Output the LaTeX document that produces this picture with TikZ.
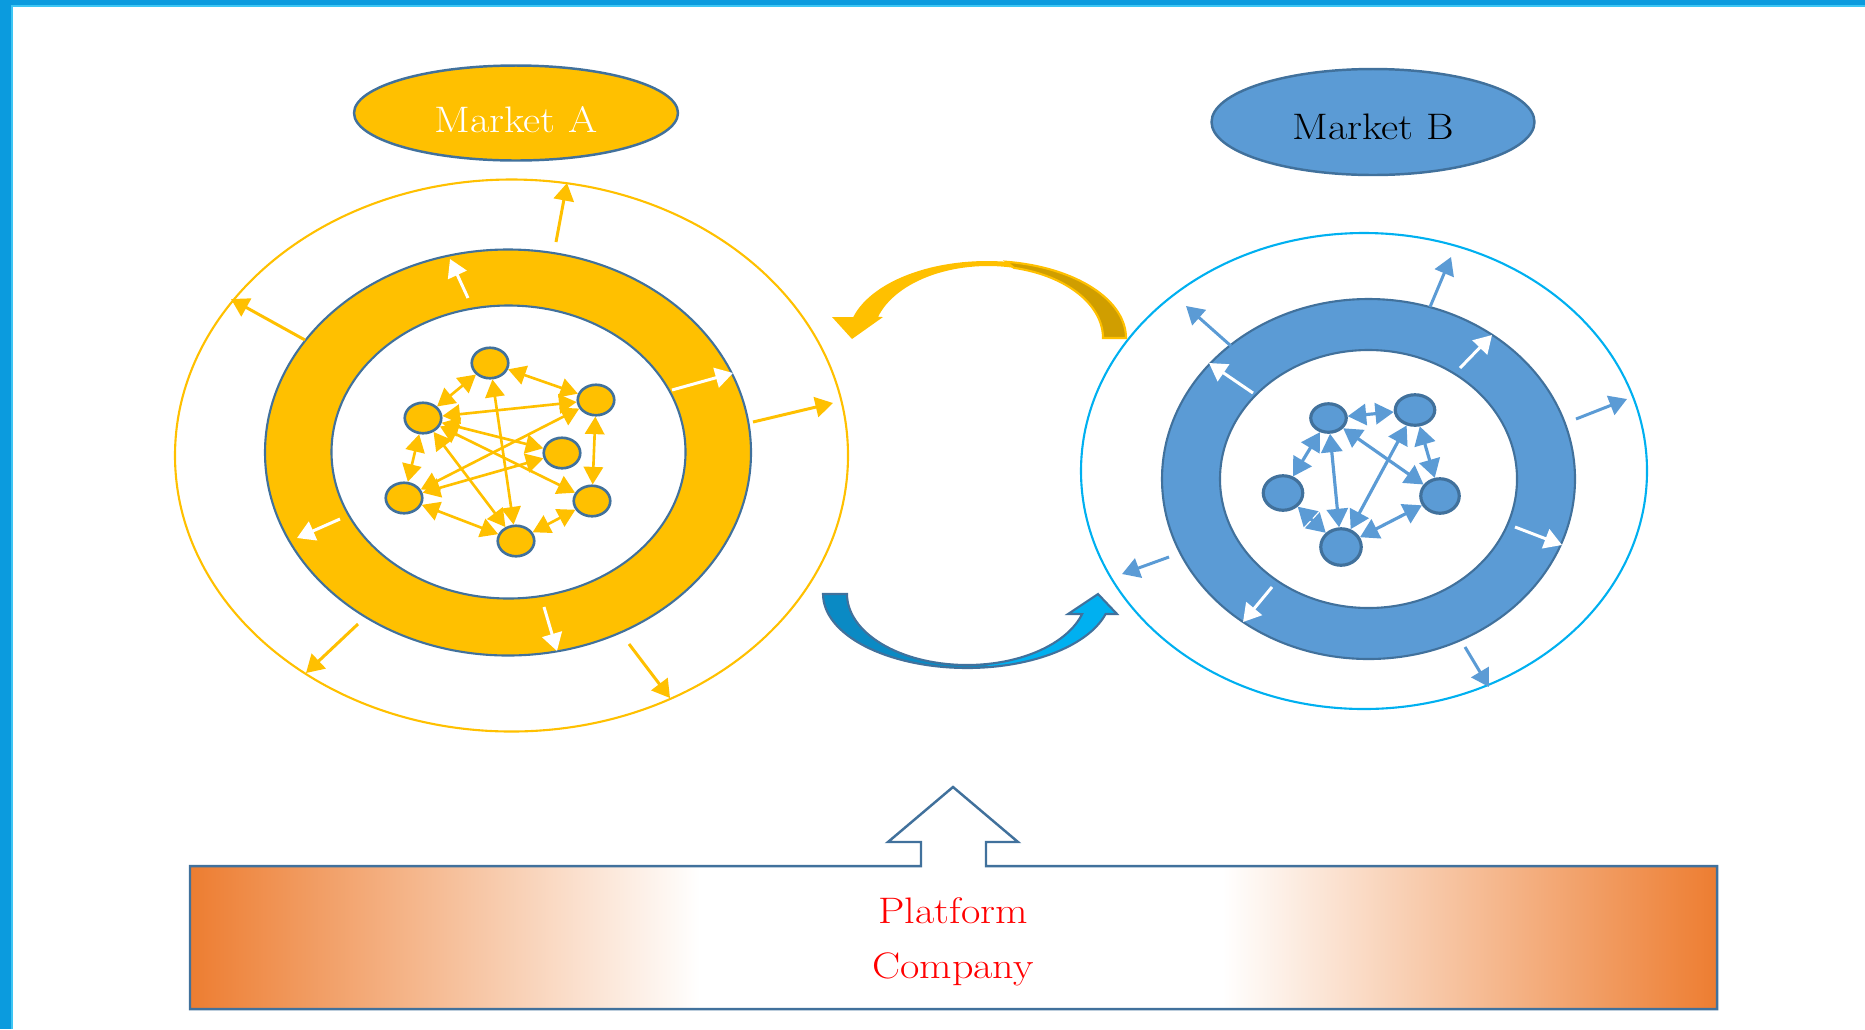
\documentclass[tikz,border=0pt]{standalone}
\usepackage{fontspec}
\usepackage{graphicx}
\usetikzlibrary{arrows.meta,shapes.geometric}

\definecolor{gold}{HTML}{FFC000}
\definecolor{darkgold}{HTML}{D09E00}
\definecolor{steel}{HTML}{41719C}
\definecolor{sky}{HTML}{5B9BD5}
\definecolor{ringcyan}{HTML}{00B0F0}
\definecolor{deepcyan}{HTML}{0A8AC4}
\definecolor{frameblue}{HTML}{0B9BDE}
\definecolor{framelight}{HTML}{3CC6F4}
\definecolor{platorange}{HTML}{ED7D31}

% orange at both ends of the platform bar, white in the middle
\pgfdeclarehorizontalshading{platformfade}{100bp}{color(0bp)=(platorange); color(25bp)=(platorange); color(41.7bp)=(white); color(58.8bp)=(white); color(75bp)=(platorange); color(100bp)=(platorange)}

% ribbon of the lower curved arrow (blue)
\newcommand{\lowerribbon}{(1068,614) -- (1098,594) -- (1117,614)
  -- plot[domain=15.7:180, samples=60, variable=\t] ({967+144*cos(\t)},{594+74*sin(\t)})
  -- plot[domain=180:16.4, samples=60, variable=\t] ({967+120*cos(\t)},{594+71*sin(\t)}) -- cycle}

% wide, slightly heavy label lettering
\newcommand{\widelabel}[1]{\scalebox{1.14}[1]{\addfontfeatures{FakeBold=0.4}#1}}

\begin{document}
\begin{tikzpicture}[x=0.02cm, y=-0.02cm,
  agent/.style={ellipse, draw=steel, inner sep=0pt},
  goldagent/.style={agent, fill=gold, line width=1.5pt, minimum width=0.73cm, minimum height=0.61cm},
  skyagent/.style={agent, fill=sky, line width=1.8pt},
  goldlink/.style={gold, line width=1.5pt, >={Triangle[length=10pt,width=11pt]}, <->},
  skylink/.style={sky, line width=1.8pt, >={Triangle[length=10.5pt,width=12pt]}, <->},
  radial/.style={line width=1.7pt, -{Triangle[length=10pt,width=11.5pt]}},
  market/.style={ellipse, draw=steel, line width=1.4pt, inner sep=0pt},
  bigtext/.style={font=\fontsize{21}{25}\selectfont, inner sep=0pt},
]
\useasboundingbox (0,0) rectangle (1865,1029);

% frame on the left and top edges
\fill[frameblue] (0,0) rectangle (11,1029);
\fill[frameblue] (0,0) rectangle (1865,5);
\draw[framelight, line width=0.8pt] (12,1029) -- (12,6) -- (1865,6);

% ---------- market A system ----------
\draw[gold, line width=1.2pt] (511.5,455.5) ellipse [x radius=336.5, y radius=276];
\draw[steel, line width=1.2pt, fill=gold, even odd rule]
  (508,452.5) ellipse [x radius=243, y radius=203]
  (508.5,452) ellipse [x radius=177, y radius=146.5];

\foreach \nm/\xa/\ya/\xb/\yb in {aw1/468/298/450/259, aw2/672/390/733/373, aw3/340/519/297/538, aw4/544/607/557/651}{
  \coordinate (\nm-tail) at (\xa,\ya);
  \coordinate (\nm-tip) at (\xb,\yb);
  \draw[radial, white] (\nm-tail) -- (\nm-tip);
}
\foreach \nm/\xa/\ya/\xb/\yb in {ag1/556/242/567/183, ag2/305/340/231/299, ag3/753/422/833/403, ag4/358/624/306/673, ag5/629/644/670/698}{
  \coordinate (\nm-tail) at (\xa,\ya);
  \coordinate (\nm-tip) at (\xb,\yb);
  \draw[radial, gold] (\nm-tail) -- (\nm-tip);
}

\node[goldagent] (ga1) at (490,363) {};
\node[goldagent] (ga2) at (423,418) {};
\node[goldagent] (ga3) at (596,400) {};
\node[goldagent] (ga4) at (562,453) {};
\node[goldagent] (ga5) at (404,498) {};
\node[goldagent] (ga6) at (592,501) {};
\node[goldagent] (ga7) at (516,541) {};
\foreach \p/\q in {ga1/ga2, ga1/ga3, ga2/ga3, ga2/ga5, ga3/ga6, ga1/ga7, ga2/ga4, ga2/ga6, ga2/ga7, ga5/ga3, ga5/ga4, ga5/ga7, ga7/ga6}
  \draw[goldlink] (\p) -- (\q);

% ---------- market B system ----------
\draw[ringcyan, line width=1.2pt] (1364,471) ellipse [x radius=283, y radius=238];
\draw[steel, line width=1.2pt, fill=sky, even odd rule]
  (1368.5,479) ellipse [x radius=206.5, y radius=180]
  (1368.5,479) ellipse [x radius=148.5, y radius=129];

\foreach \nm/\xa/\ya/\xb/\yb in {bw1/1253/393/1209/363, bw2/1460/368/1492/335, bw3/1515/527/1562/545, bw4/1272/587/1243/622}{
  \coordinate (\nm-tail) at (\xa,\ya);
  \coordinate (\nm-tip) at (\xb,\yb);
  \draw[radial, white] (\nm-tail) -- (\nm-tip);
}
\foreach \nm/\xa/\ya/\xb/\yb in {bs1/1231/346/1186/306, bs2/1430/307/1451/257, bs3/1576/419/1627/399, bs4/1169/557/1122/574, bs5/1465/647/1489/687}{
  \coordinate (\nm-tail) at (\xa,\ya);
  \coordinate (\nm-tip) at (\xb,\yb);
  \draw[radial, sky] (\nm-tail) -- (\nm-tip);
}

\node[skyagent, minimum width=0.71cm, minimum height=0.57cm] (sb1) at (1328.5,418) {};
\node[skyagent, minimum width=0.79cm, minimum height=0.61cm] (sb2) at (1415,410) {};
\node[skyagent, minimum width=0.79cm, minimum height=0.69cm] (sb3) at (1283,493) {};
\node[skyagent, minimum width=0.77cm, minimum height=0.69cm] (sb4) at (1440,496) {};
\node[skyagent, minimum width=0.81cm, minimum height=0.73cm] (sb5) at (1341,547) {};
\foreach \p/\q in {sb1/sb2, sb1/sb3, sb1/sb5, sb1/sb4, sb2/sb5, sb2/sb4, sb3/sb5, sb5/sb4}
  \draw[skylink] (\p) -- (\q);

% ---------- market labels ----------
\node[market, fill=gold, minimum width=6.48cm, minimum height=1.9cm] (marketA) at (516,113) {};
\node[bigtext, text=white] (marketAtext) at (516,120) {\widelabel{Market A}};
\node[market, fill=sky, minimum width=6.46cm, minimum height=2.12cm] (marketB) at (1373,122) {};
\node[bigtext, text=black] (marketBtext) at (1373,127) {\widelabel{Market B}};

% ---------- upper curved arrow (B to A) ----------
\fill[gold] (832,317) -- (852,339) -- (883,317)
  -- plot[domain=197:360, samples=60, variable=\t] ({988+115*cos(\t)},{338+72*sin(\t)})
  -- plot[domain=360:195.8, samples=60, variable=\t] ({987+139*cos(\t)},{338+77*sin(\t)}) -- cycle;
\filldraw[fill=darkgold, draw=gold, line width=1.2pt]
  plot[domain=278:360, samples=40, variable=\t] ({987+139*cos(\t)},{338+77*sin(\t)})
  -- plot[domain=360:283, samples=40, variable=\t] ({988+115*cos(\t)},{338+72*sin(\t)}) -- cycle;

% ---------- lower curved arrow (A to B) ----------
\fill[ringcyan] \lowerribbon;
\fill[deepcyan]
  plot[domain=80:180, samples=40, variable=\t] ({967+144*cos(\t)},{594+74*sin(\t)})
  -- plot[domain=180:82, samples=40, variable=\t] ({967+120*cos(\t)},{594+71*sin(\t)}) -- cycle;
\draw[steel, line width=1.2pt, line join=miter] \lowerribbon;

% ---------- platform company bar with upward arrow ----------
\shadedraw[shading=platformfade, draw=steel, line width=1.4pt]
  (190,866) -- (921,866) -- (921,842) -- (888,842) -- (953,787) -- (1018,842)
  -- (986,842) -- (986,866) -- (1717,866) -- (1717,1009) -- (190,1009) -- cycle;
\node[bigtext, text=red, anchor=base] (platformtext) at (953,923) {\widelabel{Platform}};
\node[bigtext, text=red, anchor=base] (companytext) at (953,978) {\widelabel{Company}};

\end{tikzpicture}
\end{document}
